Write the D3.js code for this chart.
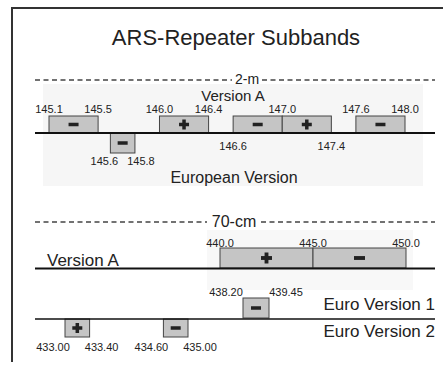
<!DOCTYPE html>
<html><head><meta charset="utf-8">
<script src="https://cdn.jsdelivr.net/npm/d3@7/dist/d3.min.js"></script>
<style>body{margin:0;background:#fff}svg{display:block}text{font-family:"Liberation Sans",Arial,sans-serif;fill:#222}</style>
</head><body><svg id="c" width="443" height="365"></svg>
<script>
// ---- data ----
const title = "ARS-Repeater Subbands";
const sectionNames = ["2-m", "70-cm"];
const rowNames2m = ["Version A", "European Version"];
const rowNames70 = ["Version A", "Euro Version 1", "Euro Version 2"];

// 2-m band (MHz)
const m2VersionA = [
  {lo:145.1, hi:145.5, sign:"-"},
  {lo:146.0, hi:146.4, sign:"+"},
  {lo:146.6, hi:147.0, sign:"-"},
  {lo:147.0, hi:147.4, sign:"+"},
  {lo:147.6, hi:148.0, sign:"-"}
];
const m2Euro = [{lo:145.6, hi:145.8, sign:"-"}];
const m2TopLabels = [
  {v:145.1, t:"145.1"}, {v:145.5, t:"145.5"}, {v:146.0, t:"146.0"}, {v:146.4, t:"146.4"},
  {v:147.0, t:"147.0"}, {v:147.6, t:"147.6"}, {v:148.0, t:"148.0"}
];
const m2BottomLabels = [{v:146.6, t:"146.6"}, {v:147.4, t:"147.4"}];
const m2EuroLabels = [{v:145.6, t:"145.6", side:-1}, {v:145.8, t:"145.8", side:1}];

// 70-cm band (MHz)
const cmVersionA = [{lo:440.0, hi:445.0, sign:"+"}, {lo:445.0, hi:450.0, sign:"-"}];
const cmVersionALabels = [{v:440.0, t:"440.0"}, {v:445.0, t:"445.0"}, {v:450.0, t:"450.0"}];
const cmEuro1 = [{lo:438.20, hi:439.45, sign:"-"}];
const cmEuro1Labels = [{v:438.20, t:"438.20", side:-1}, {v:439.45, t:"439.45", side:1}];
const cmEuro2 = [{lo:433.00, hi:433.40, sign:"+"}, {lo:434.60, hi:435.00, sign:"-"}];
const cmEuro2Labels = [{v:433.00, t:"433.00", side:-1}, {v:433.40, t:"433.40", side:1},
                       {v:434.60, t:"434.60", side:-1}, {v:435.00, t:"435.00", side:1}];

// ---- drawing ----
const svg = d3.select("#c");
const x2m = d3.scaleLinear().domain([145.1, 148.0]).range([49, 405]);
const x70A = d3.scaleLinear().domain([440, 450]).range([220, 406]);
const xE1 = d3.scaleLinear().domain([438.20, 439.45]).range([243, 269]);
const xE2 = d3.scaleLinear().domain([433.00, 435.00]).range([65, 188]);

// faint scan backdrops
svg.append("rect").attr("x",43).attr("y",84).attr("width",380).attr("height",102).attr("fill","#f6f6f6");
svg.append("rect").attr("x",207).attr("y",230).attr("width",206).attr("height",60).attr("fill","#f8f8f8");

// frame
svg.append("path").attr("d","M12,362 V8 H443").attr("fill","none").attr("stroke","#333").attr("stroke-width",2);

svg.append("text").attr("x",236).attr("y",45).attr("text-anchor","middle")
  .attr("font-size",22).text(title);

function dashed(y, x1, x2, label, size, lx, lw, dy){
  const g = svg.append("g");
  g.append("line").attr("x1",x1).attr("x2",lx-lw/2-3).attr("y1",y).attr("y2",y)
    .attr("stroke","#444").attr("stroke-width",1.3).attr("stroke-dasharray","5,3.5");
  g.append("line").attr("x1",lx+lw/2+3).attr("x2",x2).attr("y1",y).attr("y2",y)
    .attr("stroke","#444").attr("stroke-width",1.3).attr("stroke-dasharray","5,3.5");
  g.append("text").attr("x",lx).attr("y",y+dy).attr("text-anchor","middle")
    .attr("font-size",size).text(label);
}
dashed(80, 35, 435, sectionNames[0], 14, 247, 24, 4);
dashed(222, 35, 435, sectionNames[1], 16, 234, 48, 5);

function axisLine(y, w){
  svg.append("line").attr("x1",35).attr("x2",435).attr("y1",y).attr("y2",y)
    .attr("stroke","#111").attr("stroke-width",w);
}

function boxes(data, x, y0, y1, symSize){
  const g = svg.append("g");
  const sel = g.selectAll("g.b").data(data).join("g").attr("class","b");
  sel.append("rect")
    .attr("x", d => x(d.lo)).attr("y", y0)
    .attr("width", d => x(d.hi) - x(d.lo)).attr("height", y1 - y0)
    .attr("fill","#c5c5c5").attr("stroke","#444").attr("stroke-width",1);
  sel.each(function(d){
    const cx = (x(d.lo)+x(d.hi))/2, cy = (y0+y1)/2;
    const s = symSize, t = Math.max(3, s*0.35);
    const gg = d3.select(this);
    gg.append("rect").attr("x",cx-s/2).attr("y",cy-t/2).attr("width",s).attr("height",t).attr("fill","#222");
    if (d.sign === "+")
      gg.append("rect").attr("x",cx-t/2).attr("y",cy-s/2).attr("width",t).attr("height",s).attr("fill","#222");
  });
}

function labels(data, x, y, spread, size){
  svg.append("g").selectAll("text").data(data).join("text")
    .attr("x", d => x(d.v) + (d.side || 0) * spread)
    .attr("y", y).attr("text-anchor","middle").attr("font-size",size)
    .text(d => d.t);
}

// 2-m section
svg.append("text").attr("x",233).attr("y",101).attr("text-anchor","middle").attr("font-size",15).text(rowNames2m[0]);
boxes(m2Euro, x2m, 133, 153, 10);
boxes(m2VersionA, x2m, 116, 133, 10);
axisLine(133, 2);
labels(m2TopLabels, x2m, 113, 0, 11);
labels(m2BottomLabels, x2m, 150, 0, 11);
labels(m2EuroLabels, x2m, 165, 6, 11);
svg.append("text").attr("x",234).attr("y",183).attr("text-anchor","middle").attr("font-size",16).text(rowNames2m[1]);

// 70-cm section
svg.append("text").attr("x",47).attr("y",266).attr("font-size",17).text(rowNames70[0]);
boxes(cmVersionA, x70A, 248, 268, 11);
axisLine(268.5, 2);
labels(cmVersionALabels, x70A, 247, 0, 11);

boxes(cmEuro1, xE1, 298, 318, 10);
boxes(cmEuro2, xE2, 319, 337, 10);
axisLine(319, 1.6);
labels(cmEuro1Labels, xE1, 296, 17, 11);
labels(cmEuro2Labels, xE2, 351, 12, 11);
svg.append("text").attr("x",435).attr("y",310).attr("text-anchor","end").attr("font-size",17).text(rowNames70[1]);
svg.append("text").attr("x",435).attr("y",337).attr("text-anchor","end").attr("font-size",17).text(rowNames70[2]);
</script></body></html>
